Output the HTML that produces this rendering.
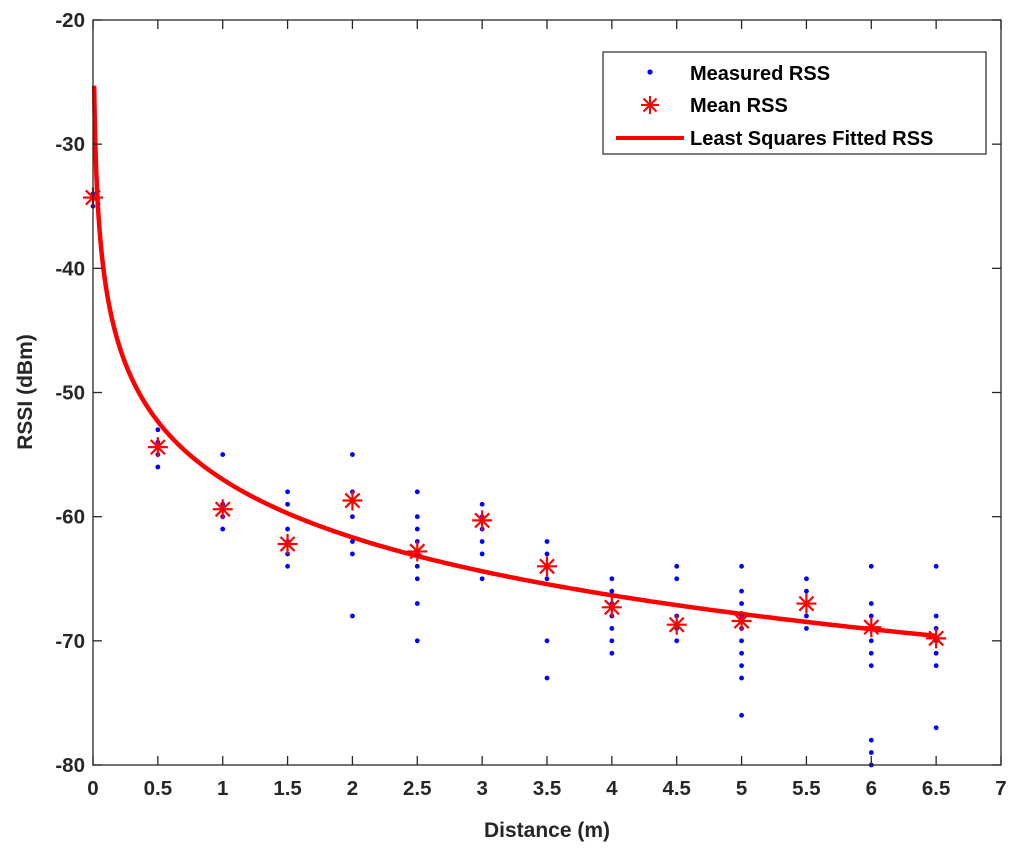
<!DOCTYPE html>
<html><head><meta charset="utf-8"><style>
body{margin:0;background:#fff;}
svg{display:block;font-family:"Liberation Sans",Arial,sans-serif;font-weight:bold;}
</style></head><body>
<svg id="chart" width="1024" height="853" viewBox="0 0 1024 853" xmlns="http://www.w3.org/2000/svg">
<rect x="0" y="0" width="1024" height="853" fill="#fff"/>
<g id="grid"></g>
<g id="fitg"></g>
<g id="dots"></g>
<g id="means"></g>
<rect x="93" y="20" width="908" height="745" fill="none" stroke="#262626" stroke-width="1.3"/>
<g id="axes"></g>
<text x="547" y="837" font-size="21" text-anchor="middle" fill="#262626">Distance (m)</text>
<text transform="translate(32,392) rotate(-90)" font-size="21" text-anchor="middle" fill="#262626">RSSI (dBm)</text>
<g>
<rect x="603" y="52" width="383" height="102" fill="#fff" stroke="#262626" stroke-width="1.2"/>
<circle cx="650" cy="72" r="2.6" fill="#0000ff"/>
<text x="690" y="80" font-size="20" fill="#000">Measured RSS</text>
<g stroke="#ff0000" stroke-width="2">
<line x1="650" y1="96" x2="650" y2="114"/><line x1="641" y1="105" x2="659" y2="105"/>
<line x1="643.5" y1="98.5" x2="656.5" y2="111.5"/><line x1="643.5" y1="111.5" x2="656.5" y2="98.5"/></g>
<text x="690" y="112" font-size="20" fill="#000">Mean RSS</text>
<line x1="616" y1="138" x2="684" y2="138" stroke="#ff0000" stroke-width="4"/>
<text x="690" y="145" font-size="20" fill="#000">Least Squares Fitted RSS</text>
</g>
</svg>
<script>
const distances=[0,0.5,1,1.5,2,2.5,3,3.5,4,4.5,5,5.5,6,6.5];
const measured=[
[-34,-35],
[-53,-54,-55,-56],
[-55,-59,-60,-61],
[-58,-59,-61,-62,-63,-64],
[-55,-58,-60,-62,-63,-68],
[-58,-60,-61,-62,-63,-64,-65,-67,-70],
[-59,-60,-61,-62,-63,-65],
[-62,-63,-65,-70,-73],
[-65,-66,-67,-68,-69,-70,-71],
[-64,-65,-68,-69,-70],
[-64,-66,-67,-68,-69,-70,-71,-72,-73,-76],
[-65,-66,-68,-69],
[-64,-67,-68,-69,-70,-71,-72,-78,-79,-80],
[-64,-68,-69,-70,-71,-72,-77]];
const meanRSS=[-34.3,-54.4,-59.4,-62.2,-58.7,-62.8,-60.3,-64,-67.3,-68.7,-68.4,-67,-68.9,-69.8];
const fitA=-57, fitSlope=15.5;
const xTicks=[0,0.5,1,1.5,2,2.5,3,3.5,4,4.5,5,5.5,6,6.5,7];
const xTickLabels=["0","0.5","1","1.5","2","2.5","3","3.5","4","4.5","5","5.5","6","6.5","7"];
const yTicks=[-20,-30,-40,-50,-60,-70,-80];
const yTickLabels=["-20","-30","-40","-50","-60","-70","-80"];

const NS="http://www.w3.org/2000/svg";
const X0=93,X1=1001,Y0=765,Y1=20;
const xs=v=>X0+(v-0)/(7-0)*(X1-X0);
const ys=v=>Y0-(v-(-80))/(60)*(Y0-Y1);
function mk(tag,attrs,parent){const e=document.createElementNS(NS,tag);for(const k in attrs)e.setAttribute(k,attrs[k]);parent.appendChild(e);return e;}
const axes=document.getElementById('axes');
xTicks.forEach((t,i)=>{
  const l=mk('line',{x1:xs(t),x2:xs(t),y1:Y0,y2:Y0-9,stroke:'#262626','stroke-width':1.3},axes);
  
  
  const l2=mk('line',{x1:xs(t),x2:xs(t),y1:Y1,y2:Y1+9,stroke:'#262626','stroke-width':1.3},axes);
  
  
  const tx=mk('text',{x:xs(t),y:Y0+30,'font-size':20.5,'text-anchor':'middle',fill:'#262626'},axes);
  tx.textContent=xTickLabels[i];
  
  
});
yTicks.forEach((t,i)=>{
  const l=mk('line',{x1:X0,x2:X0+9,y1:ys(t),y2:ys(t),stroke:'#262626','stroke-width':1.3},axes);
  
  
  const l2=mk('line',{x1:X1,x2:X1-9,y1:ys(t),y2:ys(t),stroke:'#262626','stroke-width':1.3},axes);
  
  
  const tx=mk('text',{x:X0-8,y:ys(t)+7,'font-size':20.5,'text-anchor':'end',fill:'#262626'},axes);
  tx.textContent=yTickLabels[i];
  
  
});
let d='';
for(let i=0;i<=700;i++){
  const x=0.009*Math.pow(6.5/0.009,i/700);
  const y=fitA-fitSlope*Math.log10(x);
  d+=(i?'L':'M')+xs(x).toFixed(2)+','+ys(y).toFixed(2);
}
const fit=mk('path',{d:d,fill:'none',stroke:'#ff0000','stroke-width':4.5},document.getElementById('fitg'));


const dots=document.getElementById('dots');
distances.forEach((x,i)=>{
  measured[i].forEach(v=>{
    const c=mk('circle',{cx:xs(x),cy:ys(v),r:2.4,fill:'#0000ff'},dots);
    
    
  });
});
const means=document.getElementById('means');
distances.forEach((x,i)=>{
  const cx=xs(x),cy=ys(meanRSS[i]),r=10,q=7.1;
  const g=mk('g',{stroke:'#ff0000','stroke-width':2.2},means);
  
  
  mk('line',{x1:cx,x2:cx,y1:cy-r,y2:cy+r},g);
  mk('line',{x1:cx-r,x2:cx+r,y1:cy,y2:cy},g);
  mk('line',{x1:cx-q,x2:cx+q,y1:cy-q,y2:cy+q},g);
  mk('line',{x1:cx-q,x2:cx+q,y1:cy+q,y2:cy-q},g);
});
</script>
</body></html>
